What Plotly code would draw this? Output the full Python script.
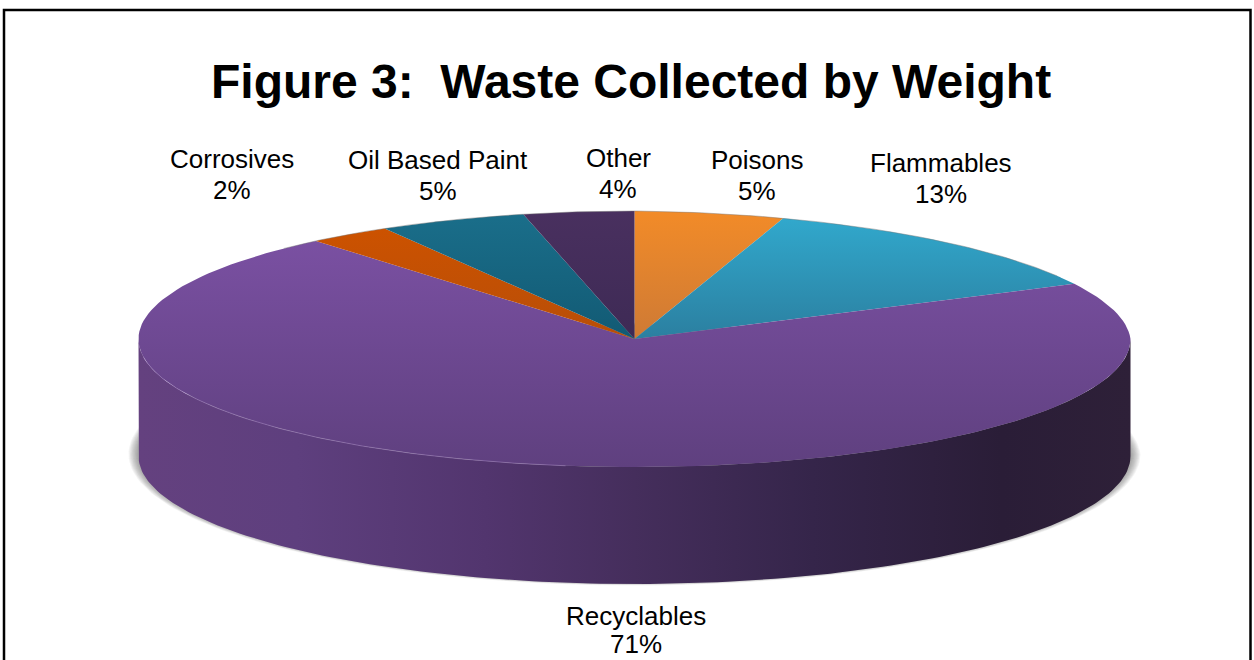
import numpy as np
import plotly.graph_objects as go

# ---- data ----
categories = ["Poisons", "Flammables", "Recyclables", "Corrosives", "Oil Based Paint", "Other"]
slice_share = [4.9, 12.9, 71.1, 2.7, 4.8, 3.6]          # visual share of each drawn wedge
printed_labels = ["5%", "13%", "71%", "2%", "5%", "4%"]  # percentages printed on the chart
title_text = "Figure 3:\u00a0 Waste Collected by Weight"

# ---- styling ----
face_colors = [
    ["#F28B28", "#CE7A35"],
    ["#31A8CC", "#2B7FA0"],
    ["#7A50A2", "#5F407F"],
    ["#CC5200", "#B84E08"],
    ["#1A6E8A", "#125A74"],
    ["#49305F", "#3E2A55"],
]
wall_stops = [[0, "#64417F"], [0.16, "#5E3F7E"], [0.35, "#52356E"], [0.5, "#452E5C"],
              [0.68, "#35254A"], [0.87, "#2A1D37"], [1, "#2E2038"]]
label_pos = {
    "Poisons": (757, 160), "Flammables": (941, 163), "Recyclables": (636, 616),
    "Corrosives": (232, 159), "Oil Based Paint": (438, 160), "Other": (618, 158),
}
CX, CY, RX, RY, DEPTH = 634.5, 339, 496, 128, 117
W, H = 1254, 660


def rim(a0, a1, n=160, dy=0.0, grow=0.0, grow_y=0.0):
    t = np.radians(np.linspace(a0, a1, n))
    # the back-right quadrant of the reference disc sits slightly inside a true ellipse
    pull = np.where((np.sin(t) > 0) & (np.cos(t) > 0), 1 - 0.018 * np.sin(2 * t), 1.0)
    return CX + (RX + grow) * np.sin(t) * pull, CY + dy - (RY + grow_y) * np.cos(t) * pull


fig = go.Figure()


def add_fill(x, y, **kw):
    fig.add_trace(go.Scatter(x=x, y=y, mode="lines", fill="toself", line=dict(width=0),
                             hoverinfo="skip", showlegend=False, **kw))


# soft shadow under the disc
for k in range(10, 0, -1):
    sx, sy = rim(0, 360, 240, dy=115, grow=k, grow_y=k * 0.35)
    add_fill(sx, sy, fillcolor="rgba(60,60,60,0.06)")

# outer wall
tx, ty = rim(90, 270)
bx, by = rim(270, 90, dy=DEPTH)
add_fill(np.r_[tx, bx], np.r_[ty, by],
         fillgradient=dict(type="horizontal", colorscale=wall_stops))

# top face wedges, driven by the shares
total = sum(slice_share)
edges = np.r_[0, np.cumsum(slice_share)] / total * 360
for i, name in enumerate(categories):
    ax, ay = rim(edges[i], edges[i + 1])
    add_fill(np.r_[CX, ax, CX], np.r_[CY, ay, CY], name=name,
             fillgradient=dict(type="vertical", colorscale=[[0, face_colors[i][1]], [1, face_colors[i][0]]]))

# rim highlights
hx, hy = rim(188, 262)
fig.add_trace(go.Scatter(x=hx, y=hy, mode="lines", line=dict(color="rgba(175,145,205,0.45)", width=1),
                         hoverinfo="skip", showlegend=False))
gx, gy = rim(-45, 60)
fig.add_trace(go.Scatter(x=gx, y=gy, mode="lines", line=dict(color="rgba(120,120,120,0.45)", width=1),
                         hoverinfo="skip", showlegend=False))

# labels
FONT = "Liberation Sans, Arial, sans-serif"
for name, pct in zip(categories, printed_labels):
    lx, ly = label_pos[name]
    fig.add_annotation(x=lx, y=ly, text=name, showarrow=False, font=dict(family=FONT, size=26, color="#000"))
    fig.add_annotation(x=lx, y=min(ly + 31, 644), text=pct, showarrow=False, font=dict(family=FONT, size=26, color="#000"))
fig.add_annotation(x=631, y=81, text=f"<b>{title_text}</b>", showarrow=False,
                   font=dict(family=FONT, size=48, color="#000"))

fig.update_layout(
    width=W, height=H, autosize=False, margin=dict(l=0, r=0, t=0, b=0),
    paper_bgcolor="white", plot_bgcolor="white", showlegend=False,
    xaxis=dict(range=[0, W], visible=False, fixedrange=True),
    yaxis=dict(range=[H, 0], visible=False, fixedrange=True),
    shapes=[dict(type="rect", x0=4, y0=10, x1=1250.5, y1=670,
                 line=dict(color="#000", width=2.5), fillcolor="rgba(0,0,0,0)", layer="below")],
)
fig.write_html("out.html", config={"displayModeBar": False},
               post_script="document.body.style.margin='0';document.body.style.overflow='hidden';")
